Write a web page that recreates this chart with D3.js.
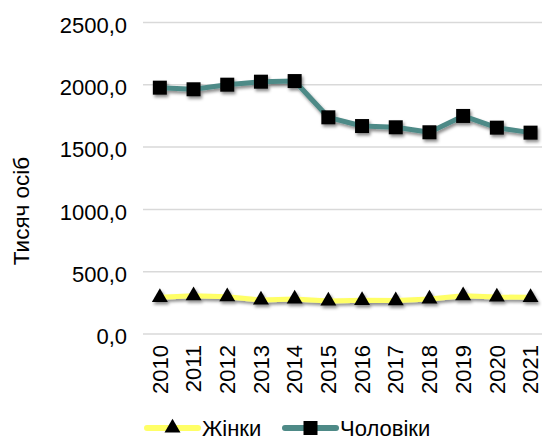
<!DOCTYPE html>
<html lang="uk">
<head>
  <meta charset="UTF-8">
  <script src="https://cdn.jsdelivr.net/npm/d3@7"></script>
  <title>Тисяч осіб</title>
  <style>
    body { margin: 0; background: #fff; }
    text { font-family: "Liberation Sans", Arial, sans-serif; fill: #000; }
  </style>
</head>
<body>
  <svg width="542" height="441" id="chart"></svg>
  <script>
  // data
  const years = ["2010","2011","2012","2013","2014","2015","2016","2017","2018","2019","2020","2021"];
  const women = [294, 307, 299, 273, 281, 265, 270, 268, 281, 307, 297, 294];
  const men = [1977, 1964, 2001, 2025, 2030, 1739, 1669, 1659, 1619, 1750, 1656, 1616];
  const yTicks = [0, 500, 1000, 1500, 2000, 2500];

  let svg = d3.select("#chart");

  // drop shadow like the original
  let defs = svg.append("defs");
  defs.append("filter").attr("id","shadow")
    .attr("x","-50%").attr("y","-50%").attr("width","200%").attr("height","200%")
    .append("feDropShadow")
    .attr("dx",1.5).attr("dy",2.5).attr("stdDeviation",1.8)
    .attr("flood-color","#000").attr("flood-opacity",0.45);

  /* SCALES */
  let x = d3.scaleBand().domain(years).range([143, 547.4]);
  let y = d3.scaleLinear().domain([0, 2500]).range([334, 22.5]);
  let cx = d => x(d) + x.bandwidth() / 2;

  /* GRID + Y AXIS */
  svg.append("g").selectAll("line")
    .data(yTicks).enter().append("line")
    .attr("x1", 143).attr("x2", 542)
    .attr("y1", d => y(d)).attr("y2", d => y(d))
    .attr("stroke", "#d9d9d9").attr("stroke-width", 1.5);

  svg.append("g").selectAll("text")
    .data(yTicks).enter().append("text")
    .attr("x", 127).attr("y", d => y(d) + 2.5)
    .attr("dy", "0.35em")
    .attr("text-anchor", "end")
    .style("font-size", "22px")
    .text(d => d3.format(".1f")(d).replace(".", ","));

  svg.append("text")
    .attr("transform", "translate(29,211) rotate(-90)")
    .attr("text-anchor", "middle")
    .style("font-size", "22.5px")
    .text("Тисяч осіб");

  /* X LABELS */
  svg.append("g").selectAll("text")
    .data(years).enter().append("text")
    .attr("transform", d => `translate(${cx(d)},345) rotate(-90)`)
    .attr("dy", "0.35em")
    .attr("text-anchor", "end")
    .style("font-size", "22px")
    .text(d => d);

  /* LINES */
  let line = d3.line().x((d, i) => cx(years[i])).y(d => y(d));

  function series(values, color, marker) {
    let g = svg.append("g").attr("filter", "url(#shadow)");
    g.append("path")
      .attr("d", line(values))
      .attr("fill", "none")
      .attr("stroke", color)
      .attr("stroke-width", 5)
      .attr("stroke-linejoin", "round");
    g.selectAll("path.m")
      .data(values).enter().append("path")
      .attr("class", "m")
      .attr("transform", (d, i) => `translate(${cx(years[i])},${y(d)})`)
      .attr("d", marker)
      .attr("fill", "#000");
  }
  let tri = d3.symbol().type(d3.symbolTriangle).size(110)();
  let sq = "M-7,-7H7V7H-7Z";
  series(men, "#4e8a87", sq);
  series(women, "#ffff66", tri);

  /* LEGEND */
  let legend = [
    {name: "Жінки", color: "#ffff66", marker: tri, x: 145},
    {name: "Чоловіки", color: "#4e8a87", marker: sq, x: 283}
  ];
  let lg = svg.append("g").selectAll("g")
    .data(legend).enter().append("g")
    .attr("transform", d => `translate(${d.x},428)`);
  lg.append("line")
    .attr("x1", 2).attr("x2", 53)
    .attr("stroke", d => d.color)
    .attr("stroke-width", 6)
    .attr("stroke-linecap", "round");
  lg.append("path")
    .attr("transform", "translate(27.5,0)")
    .attr("d", d => d.marker)
    .attr("fill", "#000");
  lg.append("text")
    .attr("x", 57).attr("y", 7.5)
    .style("font-size", "22px")
    .text(d => d.name);
  </script>
</body>
</html>
